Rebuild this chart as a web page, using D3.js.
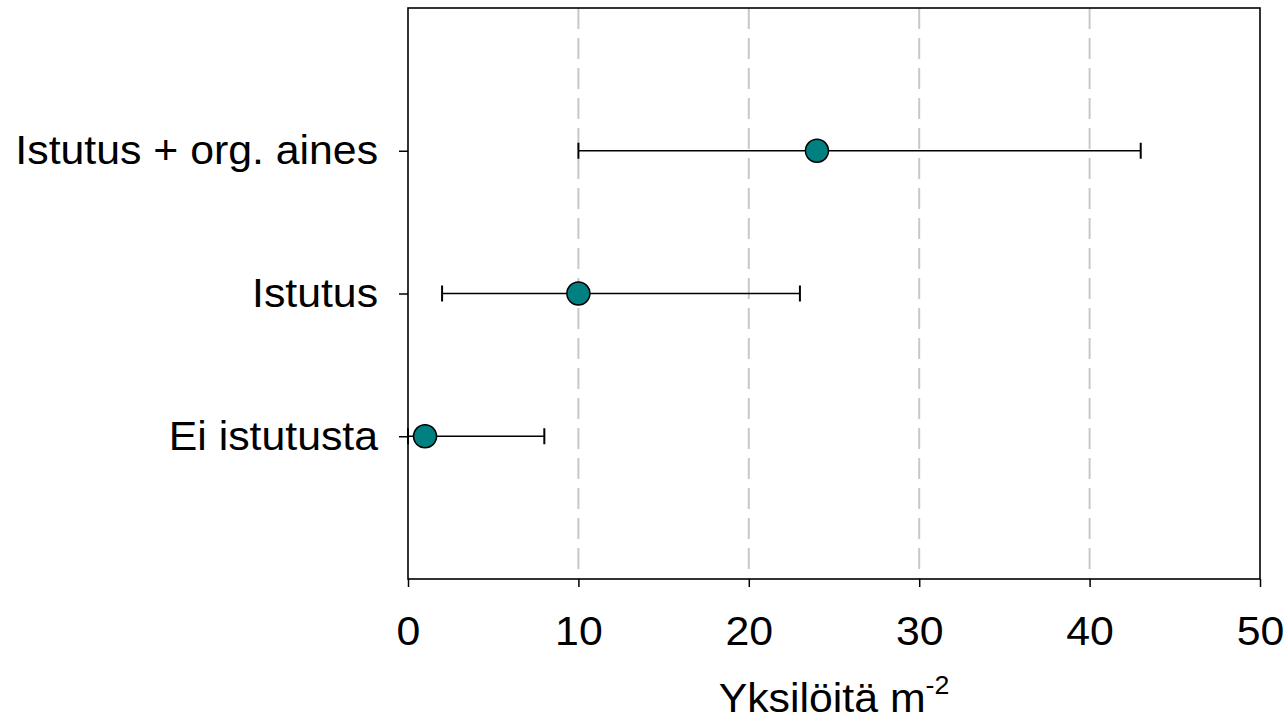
<!DOCTYPE html>
<html>
<head>
<meta charset="utf-8">
<script src="https://cdn.jsdelivr.net/npm/d3@7"></script>
<style>
  body { margin: 0; background: #fff; }
  text { font-family: "Liberation Sans", Arial, sans-serif; fill: #000; }
</style>
</head>
<body>
<div id="chart"></div>
<script>
// data
var categories = ["Ei istutusta", "Istutus", "Istutus + org. aines"];
var means = [1, 10, 24];
var lows = [0, 2, 10];
var highs = [8, 23, 43];
var xTicks = [0, 10, 20, 30, 40, 50];
var gridTicks = [10, 20, 30, 40];

var width = 1286, height = 721;
var plotLeft = 408, plotRight = 1260, plotTop = 8, plotBottom = 579;
var stretch = 1.07; // the original text is a bit wide

var svg = d3.select("#chart").append("svg")
    .attr("width", width)
    .attr("height", height);

var x = d3.scaleLinear().domain([0, 50]).range([plotLeft, plotRight]);
// categories sit at 1,2,3 on a 0..4 axis
var y = d3.scaleLinear().domain([0, 4]).range([plotBottom, plotTop]);

// dashed grid
svg.selectAll("line.grid")
    .data(gridTicks)
  .enter().append("line")
    .attr("class", "grid")
    .attr("x1", d => x(d)).attr("x2", d => x(d))
    .attr("y1", plotTop).attr("y2", plotBottom)
    .style("stroke", "#c8c8c8")
    .style("stroke-width", 2)
    .style("stroke-dasharray", "21,9");

// frame
svg.append("rect")
    .attr("x", plotLeft).attr("y", plotTop)
    .attr("width", plotRight - plotLeft).attr("height", plotBottom - plotTop)
    .style("fill", "none")
    .style("stroke", "#000")
    .style("stroke-width", 1.6);

// x axis
var xAxis = svg.append("g")
    .attr("transform", "translate(0," + plotBottom + ")")
    .call(d3.axisBottom(x).tickValues(xTicks).tickSize(8).tickPadding(30).tickFormat(d3.format("d")));
xAxis.select(".domain").remove();
xAxis.selectAll("line").style("stroke", "#000").style("stroke-width", 1.5);
xAxis.selectAll("text").style("font-size", "40px")
    .style("font-family", "Liberation Sans, Arial, sans-serif")
    .attr("transform", "scale(" + stretch + ",1)");

// y axis
var yAxis = svg.append("g")
    .attr("transform", "translate(" + plotLeft + ",0)")
    .call(d3.axisLeft(y).tickValues([1, 2, 3]).tickSize(9).tickPadding(19)
      .tickFormat(d => categories[d - 1]));
yAxis.select(".domain").remove();
yAxis.selectAll("line").style("stroke", "#000").style("stroke-width", 1.5);
yAxis.selectAll("text").style("font-size", "40px")
    .style("font-family", "Liberation Sans, Arial, sans-serif")
    .attr("transform", "scale(" + stretch + ",1)");

// error bars
var bars = svg.append("g");
categories.forEach(function(c, i) {
  var cy = y(i + 1);
  bars.append("line")
      .attr("x1", x(lows[i])).attr("x2", x(highs[i]))
      .attr("y1", cy).attr("y2", cy)
      .style("stroke", "#000").style("stroke-width", 1.5);
  [lows[i], highs[i]].forEach(function(v) {
    bars.append("line")
        .attr("x1", x(v)).attr("x2", x(v))
        .attr("y1", cy - 8).attr("y2", cy + 8)
        .style("stroke", "#000").style("stroke-width", 2);
  });
});

// points
svg.selectAll("circle.pt")
    .data(means)
  .enter().append("circle")
    .attr("class", "pt")
    .attr("cx", d => x(d))
    .attr("cy", (d, i) => y(i + 1))
    .attr("r", 11.5)
    .style("fill", "#008080")
    .style("stroke", "#000")
    .style("stroke-width", 1.5);

// axis title
var title = svg.append("g")
    .attr("transform", "translate(" + x(25) + ",712) scale(" + stretch + ",1)")
  .append("text")
    .attr("text-anchor", "middle")
    .style("font-size", "40px");
title.append("tspan").text("Yksilöitä m");
title.append("tspan").attr("dy", -18).style("font-size", "25px").text("-2");
</script>
</body>
</html>
